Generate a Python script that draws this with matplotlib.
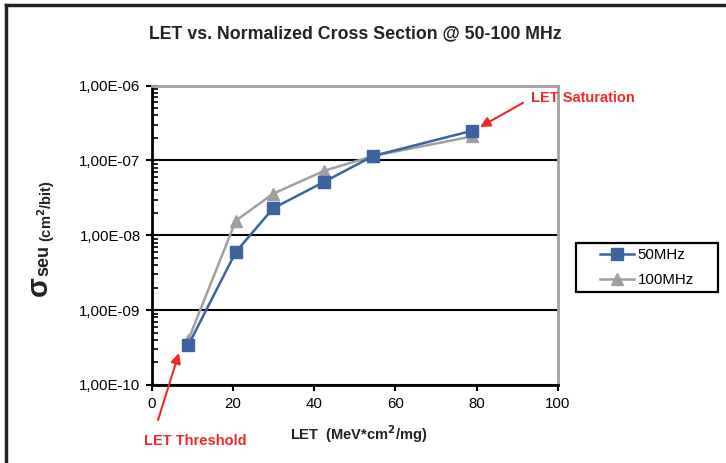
import numpy as np
import matplotlib.pyplot as plt
from matplotlib.lines import Line2D
from matplotlib.patches import Rectangle
from matplotlib.ticker import FixedLocator, LogLocator, FuncFormatter, NullFormatter

plt.rcParams['font.family'] = ['Liberation Sans', 'DejaVu Sans']

let = [9.0, 20.7, 29.9, 42.5, 54.5, 78.9]
sigma_50 = [3.4e-10, 6.0e-9, 2.3e-8, 5.2e-8, 1.15e-7, 2.5e-7]
sigma_100 = [4.0e-10, 1.57e-8, 3.6e-8, 7.3e-8, 1.15e-7, 2.1e-7]
labels = ['50MHz', '100MHz']
x_ticks = [0, 20, 40, 60, 80, 100]
y_ticks = [1e-10, 1e-9, 1e-8, 1e-7, 1e-6]

blue = '#3A64A0'
gray = '#A0A0A4'
red = '#F02828'
dark = '#222222'

fig = plt.figure(figsize=(7.26, 4.63), dpi=100)
ax = fig.add_axes([0.209, 0.1685, 0.5596, 0.6465])

ax.plot(let, sigma_50, color=blue, lw=1.8, marker='s', ms=8, label=labels[0], zorder=4)
ax.plot(let, sigma_100, color=gray, lw=1.8, marker='^', ms=8.5, label=labels[1], zorder=3)

ax.set_yscale('log')
ax.set_xlim(0, 100)
ax.set_ylim(1e-10, 1e-6)
ax.yaxis.set_major_locator(FixedLocator(y_ticks))
ax.yaxis.set_minor_locator(LogLocator(base=10, subs=np.arange(2, 10)))
ax.yaxis.set_minor_formatter(NullFormatter())
ax.yaxis.set_major_formatter(FuncFormatter(lambda v, p: ('%.2E' % v).replace('.', ',')))
ax.set_xticks(x_ticks)

ax.grid(axis='y', which='major', color='black', lw=1.5)
ax.tick_params(axis='y', which='major', direction='inout', length=8, width=1.5, labelsize=10.8, pad=4)
ax.tick_params(axis='y', which='minor', direction='in', length=4, width=1.2)
ax.tick_params(axis='x', which='major', direction='out', length=4, width=1.5, labelsize=10.8, pad=5)

for s in ['left', 'bottom']:
    ax.spines[s].set_color('black')
    ax.spines[s].set_linewidth(2)
for s in ['top', 'right']:
    ax.spines[s].set_color('#A0A0A0')
    ax.spines[s].set_linewidth(2)

fig.text(0.489, 0.928, 'LET vs. Normalized Cross Section @ 50-100 MHz', ha='center', va='center',
         fontsize=12.8, fontweight='bold', color=dark)
fig.text(0.494, 0.062, 'LET  (MeV*cm$^\\mathbf{2}$/mg)', ha='center', va='center',
         fontsize=10.5, fontweight='bold', color=dark)

# y label pieces
fig.text(0.054, 0.383, '\u03c3', rotation=90, ha='center', va='center', fontsize=21, fontweight='bold', color=dark)
fig.text(0.060, 0.437, 'seu', rotation=90, ha='center', va='center', fontsize=13, fontweight='bold', color=dark)
fig.text(0.063, 0.545, '(cm$^\\mathbf{2}$/bit)', rotation=90, ha='center', va='center', fontsize=10.5, fontweight='bold', color=dark)

leg = fig.legend(loc='center', bbox_to_anchor=(0.891, 0.422), frameon=False, fontsize=10.8,
                 handlelength=2.3, labelspacing=0.75, handletextpad=0.2)
fig.add_artist(Rectangle((0.793, 0.3693), 0.1956, 0.1058, transform=fig.transFigure,
                         fill=False, edgecolor='black', lw=1.6))

# arrows and labels
ax.annotate('', xy=(80.8, 2.8e-7), xytext=(91.4, 5.9e-7),
            arrowprops=dict(arrowstyle='-|>', color=red, lw=1.5, mutation_scale=15, shrinkA=0, shrinkB=0),
            annotation_clip=False)
ax.text(106.2, 6.9e-7, 'LET Saturation', ha='center', va='center', fontsize=10.5,
        fontweight='bold', color=red, clip_on=False)
ax.annotate('', xy=(6.7, 2.67e-10), xytext=(1.55, 3.4e-11),
            arrowprops=dict(arrowstyle='-|>', color=red, lw=1.5, mutation_scale=15, shrinkA=0, shrinkB=0),
            annotation_clip=False)
ax.text(10.7, 1.8e-11, 'LET Threshold', ha='center', va='center', fontsize=10.5,
        fontweight='bold', color=red, clip_on=False)

# outer frame
fig.add_artist(Line2D([0.008, 1.0], [0.99, 0.99], transform=fig.transFigure, color=dark, lw=2.5))
fig.add_artist(Line2D([0.008, 0.008], [0.0, 0.99], transform=fig.transFigure, color=dark, lw=2.5))

fig.savefig('out.png', dpi=100)
